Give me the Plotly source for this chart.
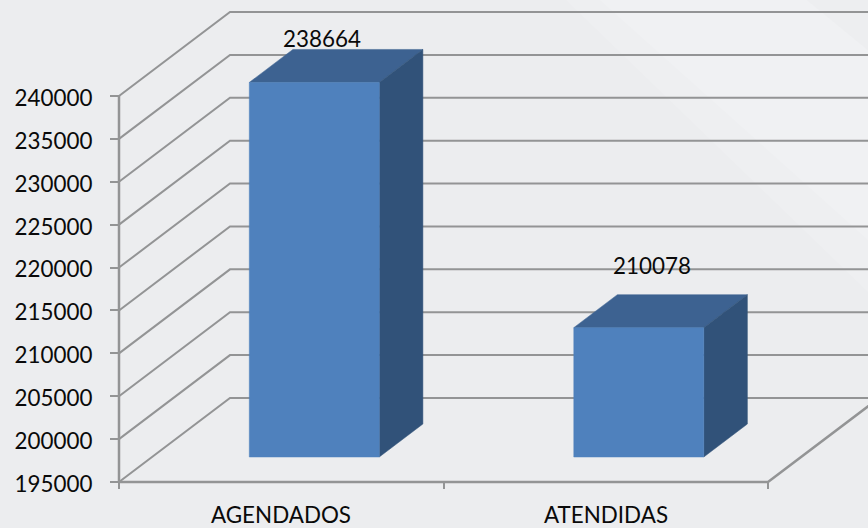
import plotly.graph_objects as go

categories = ["AGENDADOS", "ATENDIDAS"]
values = [238664, 210078]
y_ticks = [195000, 200000, 205000, 210000, 215000, 220000, 225000, 230000, 235000, 240000]

W, H = 868, 528
PX_X = 324.5          # pixels per category
PX_Y = 8.578 / 1000   # pixels per value unit
DEPTH_X = 111 / PX_X  # wall depth in x units
DEPTH_Y = 84 / PX_Y   # wall depth in value units
BASE = y_ticks[0]
X_L, X_R = -0.5, 1.5
XMIN = X_L - 119 / PX_X
XMAX = XMIN + W / PX_X
YMIN = BASE - 46 / PX_Y
YMAX = BASE + 482 / PX_Y
BAR_W = 130 / PX_X
Z_F, Z_B = 25 / 84, 58 / 84

GRID = "#939495"
FRONT, TOP, SIDE = "#4f81bd", "#3d6291", "#315279"
FONT = dict(family="Lato", size=22.4, color="#0a0a0a")


def proj(x, v, z):
    return x + z * DEPTH_X, v + z * DEPTH_Y


fig = go.Figure()


def line(points, width=2):
    xs, ys = zip(*[proj(*p) for p in points])
    fig.add_trace(go.Scatter(x=xs, y=ys, mode="lines", line=dict(color=GRID, width=width),
                             hoverinfo="skip", showlegend=False))


def face(points, color):
    xs, ys = zip(*[proj(*p) for p in points])
    fig.add_trace(go.Scatter(x=list(xs) + [xs[0]], y=list(ys) + [ys[0]], mode="lines", fill="toself",
                             fillcolor=color, line=dict(color=color, width=0.5),
                             hoverinfo="skip", showlegend=False))


# walls
for t in y_ticks:
    line([(X_L, t, 0), (X_L, t, 1), (XMAX + 1, t, 1)])
line([(X_L, BASE, 0), (X_L, y_ticks[-1], 0)], 2.5)
line([(X_L, BASE, 0), (X_R, BASE, 0), (X_R, BASE, 1)], 2.5)

# bars
for i, v in enumerate(values):
    l = i - BAR_W / 2
    r = l + BAR_W
    face([(l, v, Z_F), (r, v, Z_F), (r, v, Z_B), (l, v, Z_B)], TOP)
    face([(r, BASE, Z_F), (r, BASE, Z_B), (r, v, Z_B), (r, v, Z_F)], SIDE)
    face([(l, BASE, Z_F), (r, BASE, Z_F), (r, v, Z_F), (l, v, Z_F)], FRONT)

# data labels
label_shift_x = [8, 13]
label_shift_y = [44, 62]
for i, v in enumerate(values):
    bx, by = proj(i, v, Z_F)
    fig.add_annotation(x=bx, y=by, text=str(v), showarrow=False, font=FONT,
                       xanchor="center", yanchor="middle",
                       xshift=label_shift_x[i], yshift=label_shift_y[i])

# category labels, below the front edge of the floor
for i, c in enumerate(categories):
    fig.add_annotation(x=i, y=BASE, text=c, showarrow=False, font=FONT,
                       xanchor="center", yanchor="middle", yshift=-32)


def poly(pts, color):
    return dict(type="path", xref="paper", yref="paper", layer="below", line=dict(width=0), fillcolor=color,
                path="M " + " L ".join(f"{x / W:.4f},{1 - y / H:.4f}" for x, y in pts) + " Z")


fig.update_layout(
    width=W, height=H, autosize=False,
    margin=dict(l=0, r=0, t=0, b=0),
    paper_bgcolor="#ecedef", plot_bgcolor="rgba(0,0,0,0)",
    showlegend=False,
    shapes=[
        poly([(566, 0), (868, 0), (868, 292)], "#eeeff1"),
        poly([(600, 0), (807, 0), (868, 50), (868, 240)], "#f0f1f3"),
        poly([(807, 0), (868, 0), (868, 50)], "#edeef0"),
    ],
    xaxis=dict(range=[XMIN, XMAX], domain=[0, 1], anchor="free", position=46 / H, showgrid=False, zeroline=False,
               showline=False, tickmode="array", tickvals=[X_L, 0.5, X_R],
               ticks="outside", ticklen=6, tickwidth=2, tickcolor=GRID, showticklabels=False, fixedrange=True),
    yaxis=dict(range=[YMIN, YMAX], domain=[0, 1], anchor="free", position=119 / W, showgrid=False, zeroline=False,
               showline=False, tickmode="array", tickvals=y_ticks, ticks="outside", ticklen=9, tickwidth=2,
               tickcolor=GRID, tickfont=FONT, ticklabelstandoff=13, ticklabelshift=2, tickformat="d", fixedrange=True),
)

fig.write_html("out.html", config=dict(displayModeBar=False),
               post_script="document.body.style.margin='0';document.documentElement.style.overflow='hidden';")
